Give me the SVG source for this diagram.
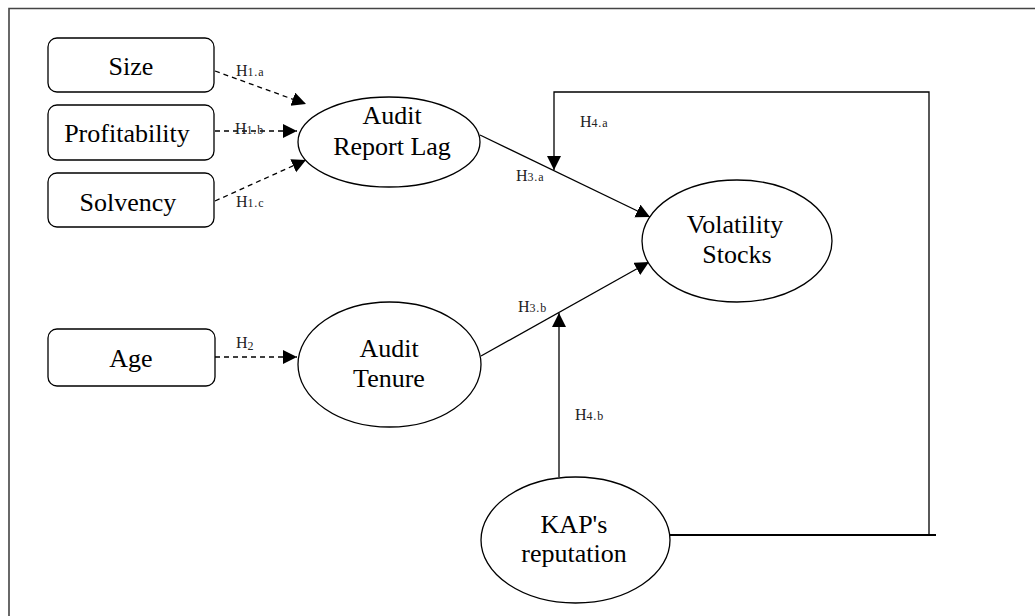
<svg xmlns="http://www.w3.org/2000/svg" width="1035" height="616" viewBox="0 0 1035 616">
<style>
.box{fill:#fff;stroke:#000;stroke-width:1.3}
.ell{fill:#fff;stroke:#000;stroke-width:1.3}
.t{font-family:"Liberation Serif","Times New Roman",serif;font-size:26px;fill:#000;text-anchor:middle}
.h{font-family:"Liberation Serif","Times New Roman",serif;font-size:16px;fill:#222}
.s{font-size:12px;letter-spacing:0.8px}
.dash{stroke:#000;stroke-width:1.3;stroke-dasharray:5 4;fill:none}
.sol{stroke:#000;stroke-width:1.3;fill:none}
</style>
<defs>
<marker id="ah" markerUnits="userSpaceOnUse" markerWidth="15" markerHeight="15" refX="14" refY="7" orient="auto">
<path d="M0,0 L14,7 L0,14 Z" fill="#000"/>
</marker>
</defs>
<rect width="1035" height="616" fill="#fff"/>
<g id="frame">
<path d="M9,616 L9,8.5 L1035,8.5" fill="none" stroke="#444" stroke-width="1.6"/>
</g>
<g id="connectors">
<line class="dash" x1="215" y1="71" x2="306" y2="104" marker-end="url(#ah)"/>
<line class="dash" x1="215" y1="131" x2="297" y2="131" marker-end="url(#ah)"/>
<line class="dash" x1="215" y1="201" x2="306" y2="160" marker-end="url(#ah)"/>
<line class="dash" x1="215" y1="357" x2="297" y2="357" marker-end="url(#ah)"/>
<line class="sol" x1="480" y1="135" x2="650" y2="217" marker-end="url(#ah)"/>
<line class="sol" x1="481" y1="356" x2="649" y2="262" marker-end="url(#ah)"/>
<line class="sol" x1="559" y1="477" x2="559" y2="313" marker-end="url(#ah)"/>
<path class="sol" d="M929,535 L929,92 L554,92 L554,170" marker-end="url(#ah)"/>
<line x1="670" y1="535" x2="936" y2="535" stroke="#000" stroke-width="2.2"/>
</g>
<g id="labels">
<text class="h" x="236" y="76">H<tspan class="s">1.a</tspan></text>
<text class="h" x="235" y="134">H<tspan class="s">1.b</tspan></text>
<text class="h" x="236" y="207">H<tspan class="s">1.c</tspan></text>
<text class="h" x="236" y="348">H<tspan class="s" dy="2">2</tspan></text>
<text class="h" x="516" y="181">H<tspan class="s">3.a</tspan></text>
<text class="h" x="518" y="312">H<tspan class="s">3.b</tspan></text>
<text class="h" x="580" y="127">H<tspan class="s">4.a</tspan></text>
<text class="h" x="575" y="420">H<tspan class="s">4.b</tspan></text>
</g>
<g id="size">
<rect class="box" x="48" y="38" width="166" height="54" rx="9"/>
<text class="t" x="131" y="75">Size</text>
</g>
<g id="profitability">
<rect class="box" x="48" y="105" width="166" height="55" rx="9"/>
<text class="t" x="127" y="142">Profitability</text>
</g>
<g id="solvency">
<rect class="box" x="48" y="173" width="166" height="54" rx="9"/>
<text class="t" x="128" y="211">Solvency</text>
</g>
<g id="age">
<rect class="box" x="48" y="329" width="167" height="57" rx="9"/>
<text class="t" x="131" y="367">Age</text>
</g>
<g id="audit-report-lag">
<ellipse class="ell" cx="389" cy="142" rx="91" ry="45"/>
<text class="t" x="392" y="124">Audit</text>
<text class="t" x="392" y="155">Report Lag</text>
</g>
<g id="audit-tenure">
<ellipse class="ell" cx="389.5" cy="364.5" rx="91.5" ry="62.5"/>
<text class="t" x="389" y="357">Audit</text>
<text class="t" x="389" y="387">Tenure</text>
</g>
<g id="volatility-stocks">
<ellipse class="ell" cx="737" cy="241" rx="95" ry="61"/>
<text class="t" x="735" y="233">Volatility</text>
<text class="t" x="737" y="263">Stocks</text>
</g>
<g id="kap-reputation">
<ellipse class="ell" cx="575.5" cy="540" rx="94.5" ry="63"/>
<text class="t" x="574" y="533">KAP's</text>
<text class="t" x="574" y="562">reputation</text>
</g>
</svg>
